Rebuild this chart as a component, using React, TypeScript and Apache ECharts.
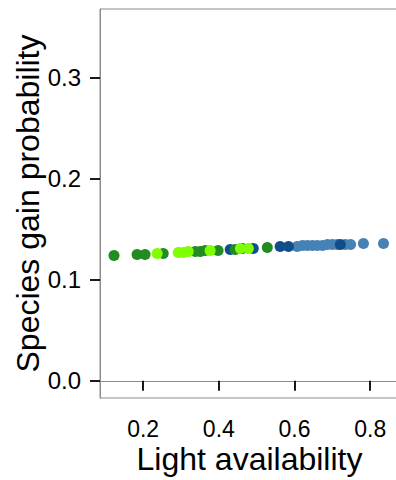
import React, { useEffect, useRef } from "react";
import * as echarts from "echarts";

const xTicks = [0.2, 0.4, 0.6, 0.8];
const yTicks = [0.0, 0.1, 0.2, 0.3];

const darkGreenX = [0.123, 0.184, 0.205, 0.253, 0.338, 0.351, 0.364, 0.398, 0.443, 0.528];
const darkGreenY = [0.124, 0.125, 0.125, 0.126, 0.128, 0.128, 0.129, 0.129, 0.130, 0.132];

const limeX = [0.237, 0.293, 0.306, 0.319, 0.377, 0.457, 0.478];
const limeY = [0.126, 0.127, 0.127, 0.128, 0.129, 0.131, 0.131];

const darkBlueX = [0.430, 0.462, 0.491, 0.562, 0.584, 0.721];
const darkBlueY = [0.130, 0.131, 0.131, 0.133, 0.133, 0.135];

const steelX = [0.607, 0.621, 0.634, 0.647, 0.660, 0.674, 0.687, 0.700, 0.713, 0.734, 0.748, 0.782, 0.835];
const steelY = [0.133, 0.134, 0.134, 0.134, 0.134, 0.134, 0.135, 0.135, 0.135, 0.135, 0.135, 0.136, 0.136];

const zip = (xs: number[], ys: number[]) => xs.map((x, i) => [x, ys[i]]);

const groups = [
  { name: "steel", color: "#4682B4", data: zip(steelX, steelY) },
  { name: "darkBlue", color: "#104E8B", data: zip(darkBlueX, darkBlueY) },
  { name: "darkGreen", color: "#228B22", data: zip(darkGreenX, darkGreenY) },
  { name: "lime", color: "#7FFF00", data: zip(limeX, limeY) },
];

export default function App() {
  const ref = useRef<HTMLDivElement>(null);
  useEffect(() => {
    if (!ref.current) return;
    const chart = echarts.init(ref.current, null, { renderer: "svg" });
    const font = "Liberation Sans, Arial, sans-serif";
    chart.setOption({
      animation: false,
      backgroundColor: "#ffffff",
      grid: {
        left: 100,
        top: 9,
        width: 299,
        height: 389,
        outerBoundsMode: "none",
        containLabel: false,
        show: true,
        borderColor: "#8c8c8c",
        borderWidth: 1,
        backgroundColor: "transparent",
      },
      xAxis: {
        type: "value",
        min: 0.086,
        max: 0.876,
        name: "Light availability",
        nameLocation: "middle",
        nameGap: 47,
        nameMoveOverlap: false,
        nameTextStyle: { fontFamily: font, fontSize: 32, lineHeight: 28, color: "#000" },
        axisLine: { show: true, lineStyle: { color: "#8c8c8c", width: 1 } },
        axisTick: {
          show: true,
          length: 10,
          customValues: xTicks,
          lineStyle: { color: "#1a1a1a", width: 2 },
        },
        axisLabel: {
          customValues: xTicks,
          margin: 22,
          lineHeight: 18,
          fontFamily: font,
          fontSize: 23,
          color: "#000",
          formatter: (v: number) => v.toFixed(1),
        },
        splitLine: { show: false },
      },
      yAxis: {
        type: "value",
        min: -0.017,
        max: 0.368,
        name: "Species gain probability",
        nameLocation: "middle",
        nameGap: 56,
        nameMoveOverlap: false,
        nameRotate: 90,
        nameTextStyle: { fontFamily: font, fontSize: 32, color: "#000" },
        axisLine: { show: true, lineStyle: { color: "#8c8c8c", width: 1 } },
        axisTick: {
          show: true,
          length: 10,
          customValues: yTicks,
          lineStyle: { color: "#1a1a1a", width: 2 },
        },
        axisLabel: {
          customValues: yTicks,
          margin: 19,
          fontFamily: font,
          fontSize: 24,
          color: "#000",
          formatter: (v: number) => v.toFixed(1),
        },
        splitLine: { show: false },
      },
      series: groups.map((g) => ({
        type: "scatter",
        name: g.name,
        data: g.data,
        symbolSize: 11,
        itemStyle: { color: g.color, opacity: 1 },
      })),
    });
    return () => chart.dispose();
  }, []);
  return (
    <div
      ref={ref}
      style={{ position: "fixed", left: 0, top: 0, width: 396, height: 480 }}
    />
  );
}
